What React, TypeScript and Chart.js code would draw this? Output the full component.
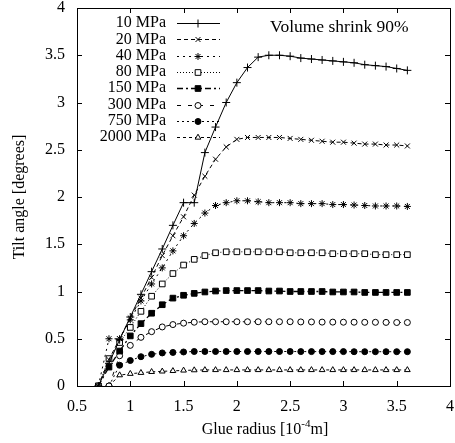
import React, { useEffect, useRef } from 'react';
import { Chart, registerables } from 'chart.js';
import { drawPoint } from 'chart.js/helpers';

Chart.register(...registerables);

const xValues = [0.7, 0.8, 0.9, 1.0, 1.1, 1.2, 1.3, 1.4, 1.5, 1.6, 1.7, 1.8, 1.9, 2.0, 2.1, 2.2, 2.3, 2.4, 2.5, 2.6, 2.7, 2.8, 2.9, 3.0, 3.1, 3.2, 3.3, 3.4, 3.5, 3.6];

const mpa10 = [0, 0.24, 0.49, 0.73, 0.97, 1.21, 1.45, 1.70, 1.94, 1.94, 2.47, 2.74, 3.00, 3.21, 3.37, 3.48, 3.50, 3.50, 3.49, 3.47, 3.46, 3.45, 3.44, 3.43, 3.42, 3.40, 3.39, 3.38, 3.36, 3.34];
const mpa20 = [0, 0.28, 0.50, 0.72, 0.93, 1.15, 1.38, 1.59, 1.79, 2.02, 2.22, 2.40, 2.53, 2.61, 2.63, 2.63, 2.63, 2.63, 2.62, 2.61, 2.60, 2.59, 2.58, 2.58, 2.57, 2.56, 2.56, 2.55, 2.55, 2.54];
const mpa40 = [0, 0.50, 0.50, 0.70, 0.90, 1.08, 1.25, 1.43, 1.59, 1.72, 1.83, 1.91, 1.94, 1.96, 1.96, 1.95, 1.94, 1.94, 1.94, 1.93, 1.93, 1.93, 1.92, 1.92, 1.915, 1.91, 1.905, 1.905, 1.905, 1.90];
const mpa80 = [0, 0.29, 0.46, 0.62, 0.79, 0.95, 1.08, 1.19, 1.28, 1.34, 1.38, 1.41, 1.42, 1.42, 1.42, 1.42, 1.42, 1.42, 1.41, 1.41, 1.41, 1.41, 1.40, 1.40, 1.40, 1.40, 1.39, 1.39, 1.39, 1.39];
const mpa150 = [0, 0.20, 0.37, 0.53, 0.66, 0.77, 0.86, 0.93, 0.96, 0.98, 0.995, 1.005, 1.01, 1.01, 1.01, 1.01, 1.005, 1.005, 1.0, 1.0, 1.0, 1.0, 0.995, 0.995, 0.995, 0.99, 0.99, 0.99, 0.99, 0.99];
const mpa300 = [null, 0, 0.32, 0.43, 0.515, 0.575, 0.625, 0.65, 0.665, 0.675, 0.68, 0.68, 0.68, 0.68, 0.68, 0.68, 0.68, 0.68, 0.68, 0.678, 0.678, 0.676, 0.676, 0.675, 0.675, 0.674, 0.674, 0.673, 0.672, 0.672];
const mpa750 = [null, 0, 0.22, 0.27, 0.31, 0.335, 0.35, 0.355, 0.36, 0.365, 0.365, 0.365, 0.365, 0.365, 0.365, 0.365, 0.365, 0.365, 0.365, 0.364, 0.364, 0.364, 0.364, 0.364, 0.363, 0.363, 0.363, 0.363, 0.363, 0.363];
const mpa2000 = [null, 0, 0.115, 0.13, 0.14, 0.15, 0.155, 0.16, 0.165, 0.168, 0.17, 0.17, 0.17, 0.17, 0.17, 0.17, 0.17, 0.17, 0.17, 0.17, 0.17, 0.17, 0.17, 0.17, 0.17, 0.17, 0.17, 0.17, 0.17, 0.17];

const seriesLabels = ['10 MPa', '20 MPa', '40 MPa', '80 MPa', '150 MPa', '300 MPa', '750 MPa', '2000 MPa'];
const seriesValues = [mpa10, mpa20, mpa40, mpa80, mpa150, mpa300, mpa750, mpa2000];

const xTitleMain = 'Glue radius [10';
const xTitleSup = '-4';
const xTitleEnd = 'm]';
const yTitle = 'Tilt angle [degrees]';
const annotation = 'Volume shrink 90%';

const FONT = '"Liberation Serif", "DejaVu Serif", serif';

const styles = [
  { dash: [], point: 'cross', fill: '#000', r: 4, w: 1 },
  { dash: [4, 3], point: 'crossRot', fill: '#000', r: 3.5, w: 1 },
  { dash: [2, 4], point: 'star', fill: '#000', r: 3.5, w: 1 },
  { dash: [1, 2], point: 'rect', fill: '#fff', r: 4, w: 1 },
  { dash: [6, 3, 2, 3], point: 'rect', fill: '#000', r: 4, w: 1.3 },
  { dash: [4, 7], point: 'circle', fill: '#fff', r: 3, w: 1 },
  { dash: [2, 3], point: 'circle', fill: '#000', r: 3, w: 1 },
  { dash: [3, 3], point: 'triangle', fill: '#fff', r: 3.3, w: 1 },
];

const fmt = (v: any) => String(Math.round(Number(v) * 10) / 10);

const framePlugin = {
  id: 'frame',
  afterDatasetsDraw(chart: any) {
    const { ctx, chartArea } = chart;
    const { left, right, top, bottom } = chartArea;
    const xs = chart.scales.x;
    const ys = chart.scales.y;
    ctx.save();
    ctx.strokeStyle = '#000';
    ctx.lineWidth = 1;
    ctx.setLineDash([]);
    ctx.strokeRect(Math.round(left) + 0.5, Math.round(top) + 0.5, Math.round(right - left), Math.round(bottom - top));
    const tl = 5;
    ctx.beginPath();
    xs.ticks.forEach((t: any) => {
      const px = Math.round(xs.getPixelForValue(t.value)) + 0.5;
      ctx.moveTo(px, bottom);
      ctx.lineTo(px, bottom - tl);
      ctx.moveTo(px, top);
      ctx.lineTo(px, top + tl);
    });
    ys.ticks.forEach((t: any) => {
      const py = Math.round(ys.getPixelForValue(t.value)) + 0.5;
      ctx.moveTo(left, py);
      ctx.lineTo(left + tl, py);
      ctx.moveTo(right, py);
      ctx.lineTo(right - tl, py);
    });
    ctx.stroke();

    // axis titles
    ctx.fillStyle = '#000';
    ctx.font = `16px ${FONT}`;
    ctx.textBaseline = 'middle';
    const mainW = ctx.measureText(xTitleMain).width;
    ctx.font = `11px ${FONT}`;
    const supW = ctx.measureText(xTitleSup).width;
    ctx.font = `16px ${FONT}`;
    const endW = ctx.measureText(xTitleEnd).width;
    const total = mainW + supW + endW;
    const cx = 265;
    let sx = cx - total / 2;
    const ty = 430;
    ctx.textAlign = 'left';
    ctx.fillText(xTitleMain, sx, ty);
    sx += mainW;
    ctx.font = `11px ${FONT}`;
    ctx.fillText(xTitleSup, sx, ty - 6);
    sx += supW;
    ctx.font = `16px ${FONT}`;
    ctx.fillText(xTitleEnd, sx, ty);

    ctx.save();
    ctx.translate(20, (top + bottom) / 2);
    ctx.rotate(-Math.PI / 2);
    ctx.textAlign = 'center';
    ctx.fillText(yTitle, 0, 0);
    ctx.restore();

    // annotation
    ctx.textAlign = 'left';
    ctx.font = `17.5px ${FONT}`;
    ctx.fillText(annotation, 270, 27);

    // legend
    for (let i = 0; i < seriesLabels.length; i++) {
      const st = styles[i];
      const y = 23 + i * 16.3;
      ctx.textAlign = 'right';
      ctx.fillStyle = '#000';
      ctx.font = `16px ${FONT}`;
      ctx.fillText(seriesLabels[i], 166, y);
      ctx.strokeStyle = '#000';
      ctx.lineWidth = st.w;
      ctx.setLineDash(st.dash);
      ctx.beginPath();
      ctx.moveTo(177, Math.round(y) + 0.5);
      ctx.lineTo(220, Math.round(y) + 0.5);
      ctx.stroke();
      ctx.setLineDash([]);
      ctx.lineWidth = 1;
      ctx.fillStyle = st.fill;
      drawPoint(ctx, { pointStyle: st.point, radius: st.r, rotation: 0, borderWidth: 1 }, 198, Math.round(y) + 0.5);
    }
    ctx.restore();
  },
};

export default function App() {
  const ref = useRef<HTMLCanvasElement>(null);
  useEffect(() => {
    if (!ref.current) return;
    const datasets = seriesValues.map((vals, i) => {
      const st = styles[i];
      const data: { x: number; y: number }[] = [];
      vals.forEach((v, j) => {
        if (v !== null) data.push({ x: xValues[j], y: v as number });
      });
      return {
        label: seriesLabels[i],
        data,
        borderColor: '#000',
        backgroundColor: st.fill,
        borderWidth: st.w,
        borderDash: st.dash,
        pointStyle: st.point,
        pointRadius: st.r,
        pointBorderWidth: 1,
        pointBorderColor: '#000',
        pointBackgroundColor: st.fill,
        tension: 0,
        showLine: true,
        fill: false,
      };
    });
    const chart = new Chart(ref.current, {
      type: 'scatter',
      data: { datasets },
      options: {
        animation: false,
        responsive: false,
        layout: { padding: { top: 8, right: 2, left: 0, bottom: 0 } },
        plugins: { legend: { display: false }, tooltip: { enabled: false }, title: { display: false } },
        scales: {
          x: {
            type: 'linear',
            min: 0.5,
            max: 4,
            grid: { display: false },
            border: { display: false },
            ticks: { stepSize: 0.5, autoSkip: false, maxRotation: 0, color: '#000', padding: 3, font: { family: FONT, size: 16 }, callback: fmt },
            afterFit: (s: any) => { s.height = 57; s.paddingLeft = 0; s.paddingRight = 0; s.paddingTop = 0; s.paddingBottom = 0; },
          },
          y: {
            type: 'linear',
            min: 0,
            max: 4,
            grid: { display: false },
            border: { display: false },
            ticks: { stepSize: 0.5, autoSkip: false, color: '#000', padding: 4, font: { family: FONT, size: 16 }, callback: fmt },
            afterFit: (s: any) => { s.width = 77; s.paddingLeft = 0; s.paddingRight = 0; s.paddingTop = 0; s.paddingBottom = 0; },
          },
        },
      },
      plugins: [framePlugin],
    });
    return () => chart.destroy();
  }, []);
  return (
    <div style={{ position: 'absolute', left: 0, top: 0, width: 455, height: 443, background: '#fff' }}>
      <canvas ref={ref} width={455} height={443} style={{ display: 'block' }} />
    </div>
  );
}
